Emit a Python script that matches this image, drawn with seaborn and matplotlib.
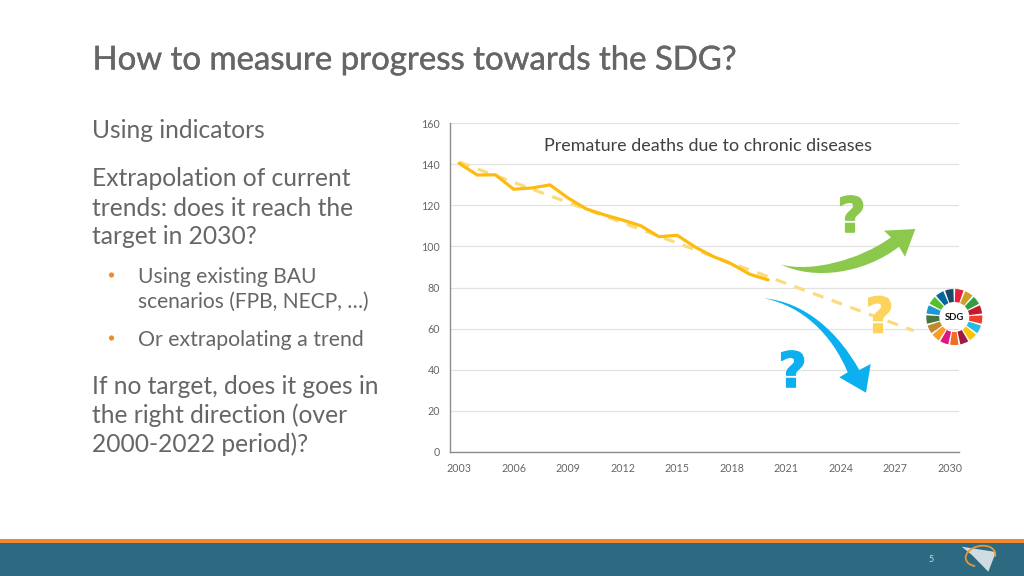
import numpy as np
import pandas as pd
import matplotlib
matplotlib.use("Agg")
import matplotlib.pyplot as plt
import matplotlib.patheffects as pe
import seaborn as sns
from matplotlib.patches import PathPatch, Polygon, Rectangle, Wedge, Circle, Arc
from matplotlib.path import Path

years = [2003, 2004, 2005, 2006, 2007, 2008, 2009, 2010, 2011, 2012,
         2013, 2014, 2015, 2016, 2017, 2018, 2019, 2020]
deaths = [140.4, 134.7, 134.8, 127.8, 128.4, 129.9, 123.5, 118.2, 115.3, 112.8,
          110.0, 104.7, 105.4, 99.6, 95.0, 91.4, 86.4, 83.7]
trend_years = [2003, 2028]
trend_values = [141.0, 59.0]
x_ticks = [2003, 2006, 2009, 2012, 2015, 2018, 2021, 2024, 2027, 2030]
y_ticks = [0, 20, 40, 60, 80, 100, 120, 140, 160]
sdg_colors = ["#e5243b", "#c9a227", "#2f9e44", "#c5192d", "#ef402b", "#27bde2", "#fcc30b",
              "#a21942", "#f36d25", "#e11484", "#f99d26", "#bf8b2e", "#48773e", "#1f97d4",
              "#56c02b", "#00689d", "#19486a"]

W, H = 1024, 576
GREY = "#666666"
FONT = "Lato"

sns.set_theme(style="white")
plt.rcParams["font.family"] = [FONT, "DejaVu Sans"]

fig = plt.figure(figsize=(W / 100, H / 100), dpi=100, facecolor="white")

# overlay in pixel coordinates for the slide furniture
bg = fig.add_axes([0, 0, 1, 1], zorder=0)
bg.set_xlim(0, W)
bg.set_ylim(H, 0)
bg.axis("off")

bg.add_patch(Rectangle((0, 538.5), W, 4, color="#ef8a33", lw=0))
bg.add_patch(Rectangle((0, 542.5), W, 34, color="#2c6a82", lw=0))
bg.text(931, 559, "5", fontsize=6.5, color="#c8d8e0", ha="center", va="center")

# title and body text
title = bg.text(92.5, 60.5, "How to measure progress towards the SDG?", fontsize=23.7, color=GREY,
                va="center", ha="left")
title.set_path_effects([pe.withStroke(linewidth=0.3, foreground=GREY)])
body = [
    (92.5, 131, "Using indicators", 17.7),
    (92.5, 179, "Extrapolation of current", 17.7),
    (92.5, 208, "trends: does it reach the", 17.7),
    (92.5, 237, "target in 2030?", 17.7),
    (138, 277, "Using existing BAU", 15.2),
    (138, 302, "scenarios (FPB, NECP, …)", 15.1),
    (138, 340, "Or extrapolating a trend", 15.3),
    (92.5, 387, "If no target, does it goes in", 17.7),
    (92.5, 415, "the right direction (over", 17.7),
    (92.5, 444, "2000-2022 period)?", 17.7),
]
for x, y, s, size in body:
    bg.text(x, y, s, fontsize=size, color=GREY, va="center", ha="left")
for y in (275, 338):
    bg.add_patch(Circle((111.5, y), 2.6, color="#ee8b2d", lw=0))

# chart
ax = fig.add_axes([450 / W, 1 - 452 / H, (959 - 450) / W, (452 - 123) / H], zorder=1)
ax.patch.set_alpha(0)
df = pd.DataFrame({"year": years, "deaths": deaths})
trend = pd.DataFrame({"year": trend_years, "deaths": trend_values})
sns.lineplot(data=trend, x="year", y="deaths", ax=ax, color="#fbdc7c", lw=2.3,
             dashes=(3.45, 2.77), errorbar=None)
sns.lineplot(data=df, x="year", y="deaths", ax=ax, color="#fdbb0f", lw=2.3, errorbar=None)
ax.set_xlim(2002.5, 2030.5)
ax.set_ylim(0, 160)
ax.set_xticks(x_ticks)
ax.set_yticks(y_ticks)
ax.set_xlabel("")
ax.set_ylabel("")
ax.tick_params(axis="x", length=0, labelsize=7.7, labelcolor="#666666", pad=8)
ax.tick_params(axis="y", length=0, labelsize=7.7, labelcolor="#666666", pad=7)
ax.grid(axis="y", color="#e2e2e2", lw=0.9)
ax.set_axisbelow(True)
for side in ("top", "right"):
    ax.spines[side].set_visible(False)
for side in ("left", "bottom"):
    ax.spines[side].set_color("#8c8c8c")
    ax.spines[side].set_linewidth(1.0)
ax.set_title("Premature deaths due to chronic diseases", fontsize=12.85, color="#404040",
             x=(708.5 - 450) / (959 - 450), y=(452 - 146) / (452 - 123), va="center", pad=0)

# annotation layer on top of the chart
top = fig.add_axes([0, 0, 1, 1], zorder=2)
top.set_xlim(0, W)
top.set_ylim(H, 0)
top.axis("off")

green = [(780.7, 264.3), (810, 273), (860, 260), (891, 237.3), (884, 230.7), (915.3, 229),
         (905, 256.7), (899, 246.7), (865, 273), (815, 281), (780.7, 264.3)]
top.add_patch(PathPatch(Path(green, [Path.MOVETO, Path.CURVE4, Path.CURVE4, Path.CURVE4,
                                     Path.LINETO, Path.LINETO, Path.LINETO, Path.LINETO,
                                     Path.CURVE4, Path.CURVE4, Path.CURVE4]),
                        color="#8cc84b", lw=0))
blue = [(764, 298.3), (805, 302), (838, 332), (859.3, 370), (870.7, 364), (866, 392.7),
        (839.3, 377.3), (847.7, 372.3), (832, 335), (803, 306), (764, 298.3)]
top.add_patch(PathPatch(Path(blue, [Path.MOVETO, Path.CURVE4, Path.CURVE4, Path.CURVE4,
                                    Path.LINETO, Path.LINETO, Path.LINETO, Path.LINETO,
                                    Path.CURVE4, Path.CURVE4, Path.CURVE4]),
                        color="#0db0ef", lw=0))

for x, y, c in [(851.5, 218, "#8cc84b"), (879.5, 318.5, "#fdd35c"), (792.5, 373, "#0db0ef")]:
    q = top.text(x, y, "?", fontsize=35, fontweight="bold", color=c, ha="center", va="center",
                 family=["DejaVu Sans"])
    q.set_path_effects([pe.withStroke(linewidth=1.2, foreground=c)])

# SDG wheel; y axis is flipped so angles run clockwise from the top
cx, cy = 954.3, 317
n = len(sdg_colors)
step = 360 / n
for i, c in enumerate(sdg_colors):
    mid = -90 + (i + 0.5) * step
    top.add_patch(Wedge((cx, cy), 28, mid - step * 0.41, mid + step * 0.41, width=13, color=c, lw=0))
top.text(cx, cy, "SDG", fontsize=6.8, fontweight="bold", color="#111111", ha="center", va="center")

# logo in the footer
top.add_patch(Polygon([(961.7, 546.7), (996, 552), (988.3, 571.7), (972, 555)], color="#cfdde3", lw=0))
top.add_patch(Arc((980.5, 556), 30, 20, angle=-12, theta1=130, theta2=375, color="#e8963c", lw=1.3))

fig.savefig("out.png", dpi=100)
